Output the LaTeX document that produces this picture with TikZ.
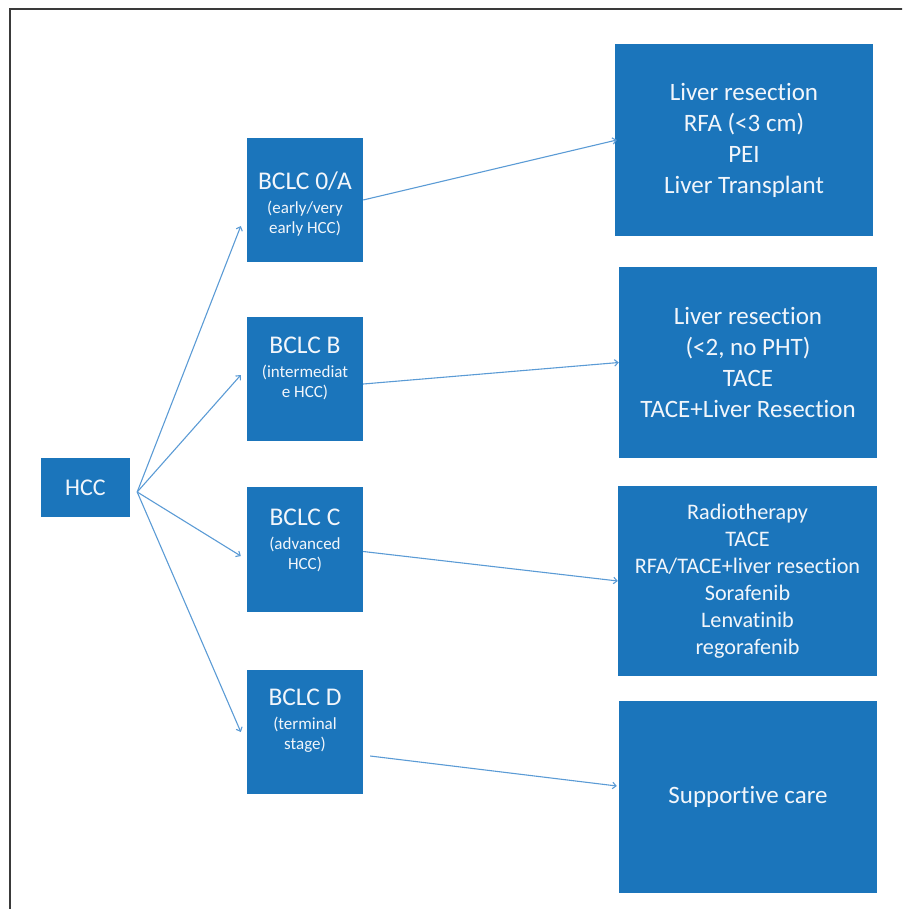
\documentclass[tikz,border=0pt]{standalone}
\usepackage{fontspec}
\setmainfont{Carlito}[Ligatures={NoCommon}]
\usetikzlibrary{arrows.meta,calc}
\definecolor{boxblue}{HTML}{1B75BB}
\definecolor{boxtext}{HTML}{F2F6FB}
\definecolor{arrowblue}{HTML}{5B9BD5}
\definecolor{framegray}{HTML}{3A3A3A}
\tikzset{
  box/.style={rectangle, fill=boxblue, inner sep=0pt, text=boxtext, align=center},
  stagetext/.style={inner sep=0pt, text=boxtext, align=center, anchor=north,
    font=\fontsize{17}{20}\selectfont},
  treat/.style={box, font=\fontsize{25}{31}\selectfont},
  conn/.style={draw=arrowblue, line width=1.1pt, -{Straight Barb[length=3.5pt,width=6.5pt]}},
}
\newcommand{\stagehead}[1]{{\fontsize{25.5}{25.5}\selectfont #1}\\[4pt]}
\begin{document}
\begin{tikzpicture}[x=1pt,y=-1pt]
\useasboundingbox (0,0) rectangle (902,909);
\begin{scope}
\clip (0,0) rectangle (902,909);
\draw[framegray, line width=1.8pt] (9.7,930) -- (9.7,9.3) -- (930,9.3);
\end{scope}

% HCC
\node[box, minimum width=89pt, minimum height=59pt, font=\fontsize{24}{28}\selectfont] (hcc) at (85.5,487.5) {HCC};

% stage boxes
\node[box, minimum width=116pt, minimum height=124pt] (b0) at (305,200) {};
\node[box, minimum width=116pt, minimum height=124pt] (bB) at (305,379) {};
\node[box, minimum width=116pt, minimum height=125pt] (bC) at (305,549.5) {};
\node[box, minimum width=116pt, minimum height=124pt] (bD) at (305,732) {};

\node[stagetext] (b0t) at ($(b0.north)+(0,34)$) {\stagehead{BCLC 0/A}(early/very\\early HCC)};
\node[stagetext] (bBt) at ($(bB.north)+(0,20)$) {\stagehead{BCLC B}(intermediat\\e HCC)};
\node[stagetext] (bCt) at ($(bC.north)+(0,22)$) {\stagehead{BCLC C}(advanced\\HCC)};
\node[stagetext] (bDt) at ($(bD.north)+(0,19)$) {\stagehead{BCLC D}(terminal\\stage)};

% treatment boxes
\node[treat, minimum width=258pt, minimum height=192pt] (r1) at (744,140)
  {Liver resection\\RFA (<3 cm)\\PEI\\Liver Transplant};
\node[treat, minimum width=258pt, minimum height=191pt] (r2) at (748,362.5)
  {Liver resection\\(<2, no PHT)\\TACE\\TACE+Liver Resection};
\node[box, minimum width=259pt, minimum height=190pt, font=\fontsize{22.2}{27}\selectfont] (r3) at (747.5,581)
  {Radiotherapy\\TACE\\RFA/TACE+liver resection\\Sorafenib\\Lenvatinib\\regorafenib};
\node[treat, minimum width=258pt, minimum height=192pt] (r4) at (748,797)
  {Supportive care};

% connectors from HCC
\coordinate (hs) at ($(hcc.east)+(7,4.5)$);
\draw[conn] (hs) -- ([xshift=-6pt,yshift=-26pt]b0.west);
\draw[conn] (hs) -- ([xshift=-6pt,yshift=4pt]bB.west);
\draw[conn] (hs) -- ([xshift=-6pt,yshift=-6.5pt]bC.west);
\draw[conn] (hs) -- ([xshift=-6pt]bD.west);

% connectors to treatments
\draw[conn] (b0.east) -- ([xshift=2pt]r1.west);
\draw[conn] ([yshift=-5pt]bB.east) -- (r2.west);
\draw[conn] ([yshift=-2pt]bC.east) -- (r3.west);
\draw[conn] ([xshift=7pt,yshift=-24pt]bD.east) -- ([xshift=-2pt,yshift=11pt]r4.west);
\end{tikzpicture}
\end{document}
